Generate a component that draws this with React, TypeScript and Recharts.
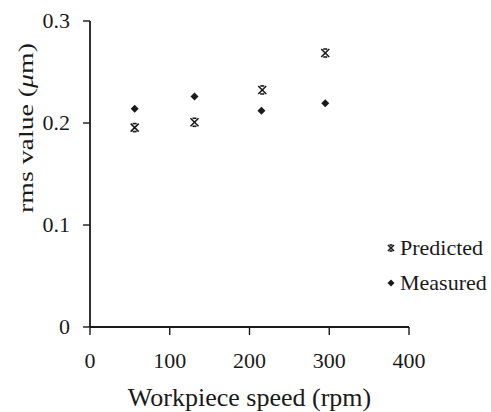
import React from 'react';
import { ScatterChart, Scatter, XAxis, YAxis } from 'recharts';

const speedsPredicted = [56, 131, 216, 295];
const rmsPredicted = [0.1955, 0.2007, 0.2324, 0.2686];
const speedsMeasured = [56, 131, 215, 295];
const rmsMeasured = [0.214, 0.2259, 0.2121, 0.2193];
const xTicks = [0, 100, 200, 300, 400];
const yTicks = [0, 0.1, 0.2, 0.3];
const seriesNames = ['Predicted', 'Measured'];

const predictedData = speedsPredicted.map((x, i) => ({ x, y: rmsPredicted[i] }));
const measuredData = speedsMeasured.map((x, i) => ({ x, y: rmsMeasured[i] }));

const FONT = '"Liberation Serif", "Times New Roman", serif';
const INK = '#1a1a1a';

const CrossMarker = (props: any) => {
  const { cx, cy, r = 4 } = props;
  return (
    <g stroke={INK} strokeWidth={1.6} fill="none">
      <line x1={cx - r} y1={cy - r} x2={cx + r} y2={cy + r} />
      <line x1={cx + r} y1={cy - r} x2={cx - r} y2={cy + r} />
      <line x1={cx - r / 2} y1={cy - r} x2={cx + r / 2} y2={cy - r} />
      <line x1={cx - r / 2} y1={cy + r} x2={cx + r / 2} y2={cy + r} />
    </g>
  );
};

const DiamondMarker = (props: any) => {
  const { cx, cy, r = 4 } = props;
  return (
    <path d={`M${cx},${cy - r}L${cx + r},${cy}L${cx},${cy + r}L${cx - r},${cy}Z`} fill={INK} />
  );
};

const XTick = (props: any) => {
  const { x, y, payload } = props;
  return (
    <text x={x} y={y} dy="0.71em" textAnchor="middle" fontFamily={FONT} fontSize={22} fill={INK}>
      {payload.value}
    </text>
  );
};

const YTick = (props: any) => {
  const { x, y, payload } = props;
  return (
    <text x={x} y={y} dy="0.33em" textAnchor="end" fontFamily={FONT} fontSize={22} fill={INK}>
      {payload.value}
    </text>
  );
};

const LegendBox = () => (
  <div
    style={{
      position: 'absolute',
      left: 385,
      top: 230,
      fontFamily: FONT,
      fontSize: 22,
      color: INK,
      lineHeight: '35px',
    }}
  >
    <div style={{ display: 'flex', alignItems: 'center' }}>
      <svg width={12} height={12} style={{ marginRight: 3 }}>
        <CrossMarker cx={6} cy={6} r={3} />
      </svg>
      <span>{seriesNames[0]}</span>
    </div>
    <div style={{ display: 'flex', alignItems: 'center' }}>
      <svg width={12} height={12} style={{ marginRight: 3 }}>
        <DiamondMarker cx={6} cy={6} r={3.5} />
      </svg>
      <span>{seriesNames[1]}</span>
    </div>
  </div>
);

const YLabel = (props: any) => {
  const { viewBox } = props;
  const x = viewBox.x + 25;
  const y = viewBox.y + 107;
  return (
    <text
      x={x}
      y={y}
      transform={`rotate(-90, ${x}, ${y})`}
      textAnchor="middle"
      dominantBaseline="central"
      fontFamily={FONT}
      fontSize={22}
      fill={INK}
      textLength={170}
      lengthAdjust="spacingAndGlyphs"
    >
      rms value (<tspan fontStyle="italic">μ</tspan>m)
    </text>
  );
};

const XLabel = (props: any) => {
  const { viewBox } = props;
  const x = viewBox.x + viewBox.width / 2;
  const y = viewBox.y + 70;
  return (
    <text
      x={x}
      y={y}
      textAnchor="middle"
      dominantBaseline="central"
      fontFamily={FONT}
      fontSize={26}
      fill={INK}
    >
      Workpiece speed (rpm)
    </text>
  );
};

export default function App() {
  return (
    <div style={{ position: 'absolute', left: 0, top: 0, width: 491, height: 412, background: '#fff' }}>
      <ScatterChart width={491} height={412} margin={{ top: 21, right: 82, left: 0, bottom: 0 }}>
        <XAxis
          type="number"
          dataKey="x"
          domain={[0, 400]}
          ticks={xTicks}
          height={85}
          tickSize={8}
          tickMargin={17}
          axisLine={{ stroke: INK, strokeWidth: 1.8 }}
          tickLine={{ stroke: INK, strokeWidth: 1.4 }}
          tick={<XTick />}
          label={<XLabel />}
        />
        <YAxis
          type="number"
          dataKey="y"
          domain={[0, 0.3]}
          ticks={yTicks}
          width={90}
          tickSize={7}
          tickMargin={13}
          axisLine={{ stroke: INK, strokeWidth: 1.8 }}
          tickLine={{ stroke: INK, strokeWidth: 1.4 }}
          tick={<YTick />}
          label={<YLabel />}
        />
        <Scatter name={seriesNames[0]} data={predictedData} shape={<CrossMarker />} isAnimationActive={false} />
        <Scatter name={seriesNames[1]} data={measuredData} shape={<DiamondMarker />} isAnimationActive={false} />
      </ScatterChart>
      <LegendBox />
    </div>
  );
}
